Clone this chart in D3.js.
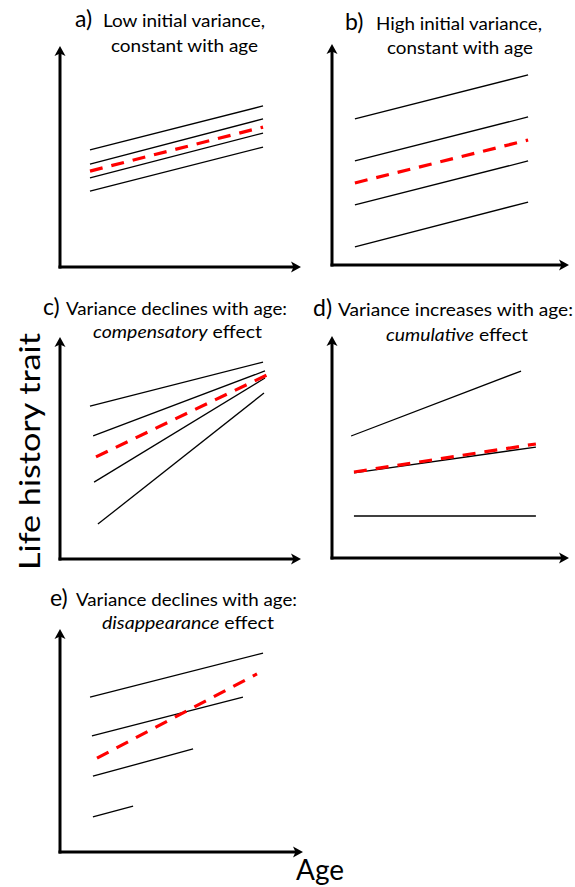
<!DOCTYPE html>
<html><head><meta charset="utf-8">
<script src="https://cdn.jsdelivr.net/npm/d3@7/dist/d3.min.js"></script>
<style>html,body{margin:0;padding:0;background:#fff;}svg{display:block;}</style>
</head><body>
<svg id="chart" width="575" height="887"></svg>
<script>
// ---------- DATA (units: 0-100 on both axes of each panel) ----------
const panelLetters = ["a)", "b)", "c)", "d)", "e)"];
const titleLine1 = [
  [{t:"Low initial variance,"}],
  [{t:"High initial variance,"}],
  [{t:"Variance declines with age:"}],
  [{t:"Variance increases with age:"}],
  [{t:"Variance declines with age:"}]
];
const titleLine2 = [
  [{t:"constant with age"}],
  [{t:"constant with age"}],
  [{t:"compensatory", i:true},{t:" effect"}],
  [{t:"cumulative", i:true},{t:" effect"}],
  [{t:"disappearance", i:true},{t:" effect"}]
];
// individual trajectories: [[age0, trait0], [age1, trait1]]
const linesA = [
  [[12.5,53.2],[84.6,73.2]],
  [[12.5,46.8],[84.6,67.3]],
  [[12.5,40.5],[84.6,60.9]],
  [[12.5,34.5],[84.6,54.5]]
];
const meanA = [[12.5,43.6],[84.6,63.6]];
const linesB = [
  [[9.7,66.4],[83.1,86.4]],
  [[9.7,47.3],[83.1,67.3]],
  [[9.7,27.3],[83.1,47.3]],
  [[9.7,8.2],[83.1,28.6]]
];
const meanB = [[9.7,37.3],[83.1,56.8]];
const linesC = [
  [[12.5,69.2],[84.6,89.1]],
  [[13.8,55.7],[85.4,85.1]],
  [[14.2,34.8],[85.4,81.9]],
  [[15.8,15.8],[85.0,75.1]]
];
const meanC = [[15.0,46.2],[86.3,83.3]];
const linesD = [
  [[8.1,55.2],[80.1,84.6]],
  [[9.3,38.5],[86.4,50.2]],
  [[9.3,19.0],[86.4,19.0]]
];
const meanD = [[9.3,38.9],[86.4,51.6]];
const linesE = [
  [[12.4,69.8],[83.9,89.6]],
  [[13.2,52.3],[75.6,69.8]],
  [[13.6,34.2],[55.0,46.4]],
  [[13.6,15.8],[30.2,20.7]]
];
const meanE = [[15.3,42.3],[81.4,80.2]];
const xLabel = "Age";
const yLabel = "Life history trait";

const panelLines = [linesA, linesB, linesC, linesD, linesE];
const panelMeans = [meanA, meanB, meanC, meanD, meanE];

// ---------- LAYOUT ----------
const frames = [
  {x0:60,  x1:300, y0:267, y1:47},
  {x0:332, x1:568, y0:265, y1:45},
  {x0:60,  x1:300, y0:559, y1:338},
  {x0:332, x1:568, y0:558, y1:337},
  {x0:60,  x1:302, y0:852, y1:630}
];
const titleLayout = [
  {lx:75,  l1:[103,265], b1:27,  l2:[111,258], b2:52},
  {lx:345, l1:[376,542], b1:30,  l2:[387,533], b2:54},
  {lx:43,  l1:[66,287],  b1:315, l2:[93,262],  b2:338},
  {lx:313, l1:[338,573], b1:316, l2:[386,528], b2:341},
  {lx:50,  l1:[76,297],  b1:606, l2:[102,274], b2:629}
];

const FONT = "Lato, 'Open Sans', sans-serif";
const svg = d3.select("#chart");

function arrowHead(g, x, y, dir) {
  const L = 10, W = 5.5, n = 2.5;
  let pts;
  if (dir === "right") pts = [[x,y],[x-L,y-W],[x-L+n,y],[x-L,y+W]];
  else pts = [[x,y],[x-W,y+L],[x,y+L-n],[x+W,y+L]];
  g.append("path").attr("d", "M" + pts.map(p => p.join(",")).join("L") + "Z").attr("fill", "#000");
}

frames.forEach((f, i) => {
  const g = svg.append("g");
  const x = d3.scaleLinear().domain([0,100]).range([f.x0, f.x1]);
  const y = d3.scaleLinear().domain([0,100]).range([f.y0, f.y1]);

  // axes (domain lines only)
  const xa = g.append("g").attr("transform", `translate(0,${f.y0})`)
    .call(d3.axisBottom(x).tickValues([]).tickSizeOuter(0));
  const ya = g.append("g").attr("transform", `translate(${f.x0},0)`)
    .call(d3.axisLeft(y).tickValues([]).tickSizeOuter(0));
  [xa, ya].forEach(a => a.select(".domain").attr("stroke", "#000").attr("stroke-width", 3)
    .attr("stroke-linecap", "square"));
  xa.select(".domain").attr("d", `M${f.x0},0H${f.x1 - 6}`);
  ya.select(".domain").attr("d", `M0,${f.y0}V${f.y1 + 6}`);
  arrowHead(g, f.x1 + 1, f.y0, "right");
  arrowHead(g, f.x0, f.y1 - 1, "up");

  const line = d3.line().x(d => x(d[0])).y(d => y(d[1]));
  g.selectAll("path.ind").data(panelLines[i]).join("path").attr("class", "ind")
    .attr("d", line).attr("fill", "none").attr("stroke", "#000").attr("stroke-width", 1.3);
  g.append("path").datum(panelMeans[i]).attr("d", line)
    .attr("fill", "none").attr("stroke", "#ff0000").attr("stroke-width", 3.2)
    .attr("stroke-dasharray", "13,9");

  // titles
  const t = titleLayout[i];
  g.append("text").attr("x", t.lx).attr("y", t.b1).attr("font-family", FONT)
    .attr("font-size", 23).attr("fill", "#000").text(panelLetters[i]);
  [[titleLine1[i], t.l1, t.b1], [titleLine2[i], t.l2, t.b2]].forEach(([parts, ext, b]) => {
    const tx = g.append("text").attr("x", ext[0]).attr("y", b).attr("font-family", FONT)
      .attr("font-size", 17).attr("fill", "#000")
      .attr("textLength", ext[1] - ext[0]).attr("lengthAdjust", "spacingAndGlyphs");
    parts.forEach(p => tx.append("tspan").attr("font-style", p.i ? "italic" : "normal").text(p.t));
  });
});

svg.append("text").attr("x", 296).attr("y", 880).attr("font-family", FONT)
  .attr("font-size", 28).attr("textLength", 48).attr("lengthAdjust", "spacingAndGlyphs").text(xLabel);
svg.append("text").attr("transform", "translate(40,570) rotate(-90)").attr("x", 0).attr("y", 0)
  .attr("font-family", FONT).attr("font-size", 28)
  .attr("textLength", 237).attr("lengthAdjust", "spacingAndGlyphs").text(yLabel);
</script>
</body></html>
